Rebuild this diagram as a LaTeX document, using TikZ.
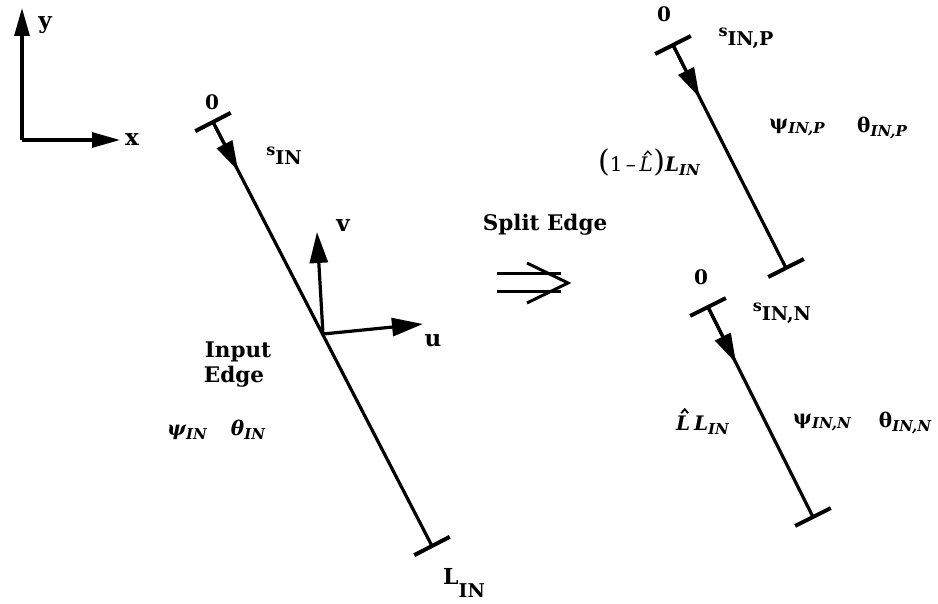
\documentclass[tikz,border=0pt]{standalone}
\usepackage{fontspec}
\setmainfont{DejaVu Serif}
\usetikzlibrary{arrows.meta,calc}
\newcommand{\slab}[1]{{\fontsize{16}{16}\selectfont\raisebox{9pt}{s}}{\fontsize{19}{19}\selectfont #1}}
\newcommand{\gklab}[2]{{\bfseries #1}\raisebox{-4pt}{\fontsize{15}{15}\selectfont\bfseries\itshape #2}}
\newcommand{\itlab}[2]{{\bfseries\itshape #1}\raisebox{-4pt}{\fontsize{15}{15}\selectfont\bfseries\itshape #2}}
\begin{document}
\begin{tikzpicture}[x=1pt,y=-1pt,
  edge/.style={line width=3.2pt},
  tickl/.style={line width=4pt},
  dirarrow/.style={line width=3.2pt,-{Triangle[length=30pt,width=17pt]}},
  axisarrow/.style={line width=3.2pt,-{Triangle[length=28pt,width=15pt]}},
  uvarrow/.style={line width=3.2pt,-{Triangle[length=31pt,width=18pt]}},
  txt/.style={font=\fontsize{21.5}{26}\selectfont\bfseries, inner sep=0pt},
  big/.style={font=\fontsize{23}{26}\selectfont\bfseries, inner sep=0pt},
  gkl/.style={font=\fontsize{20}{24}\selectfont, inner sep=0pt},
  zero/.style={font=\fontsize{20}{22}\selectfont\bfseries, inner sep=0pt},
  hatline/.style={line width=1.3pt, line join=miter}]
\useasboundingbox (0,0) rectangle (938,604);

% axes
\coordinate (O) at (22,140);
\coordinate (Y) at (22,8);
\coordinate (X) at (120,140);
\draw[axisarrow] (O) -- (Y);
\draw[axisarrow] (O) -- (X);
\node[big] (ylab) at (45,25) {y};
\node[big] (xlab) at (132,140) {x};

% input edge
\coordinate (s1) at (213,122);
\coordinate (e1) at (432,546);
\coordinate (m1) at (323,334);
\coordinate (V) at (317,232);
\coordinate (U) at (423,324);
\draw[edge] (s1) -- (e1);
\draw[tickl] ($(s1)!20pt!90:(e1)$) -- ($(s1)!20pt!-90:(e1)$);
\draw[tickl] ($(e1)!20pt!90:(s1)$) -- ($(e1)!20pt!-90:(s1)$);
\draw[dirarrow] (s1) -- ($(s1)!55pt!(e1)$);
\draw[uvarrow] (m1) -- (V);
\draw[uvarrow] (m1) -- (U);
\node[zero] (z1) at (212,102) {0};
\node[txt] (sin) at (284,156) {\slab{IN}};
\node[big] (vlab) at (343,226) {v};
\node[big] (ulab) at (433,341) {u};
\node[txt] (inp) at (238,352) {Input};
\node[txt] (edg) at (234,377) {Edge};
\node[gkl] (psiin) at (187,432) {\itlab{ψ}{IN}};
\node[gkl] (thin) at (248,430) {\itlab{θ}{IN}};
\node[txt] (lin) at (464,583) {\fontsize{22}{24}\selectfont L\raisebox{-13pt}{\fontsize{19}{21}\selectfont IN}};

% split arrow
\node[txt] (split) at (545,225) {Split Edge};
\coordinate (a1) at (497,274);
\coordinate (a2) at (561,274);
\coordinate (b1) at (497,292);
\coordinate (b2) at (561,292);
\coordinate (c1) at (527,263);
\coordinate (c2) at (568,283);
\coordinate (c3) at (527,303);
\draw[line width=3pt] (a1) -- (a2);
\draw[line width=3pt] (b1) -- (b2);
\draw[line width=3pt,line join=miter] (c1) -- (c2) -- (c3);

% positive part
\coordinate (s2) at (673,45);
\coordinate (e2) at (786,268);
\draw[edge] (s2) -- (e2);
\draw[tickl] ($(s2)!20pt!90:(e2)$) -- ($(s2)!20pt!-90:(e2)$);
\draw[tickl] ($(e2)!20pt!90:(s2)$) -- ($(e2)!20pt!-90:(s2)$);
\draw[dirarrow] (s2) -- ($(s2)!59pt!(e2)$);
\node[zero] (z2) at (664,14) {0};
\node[txt] (sinp) at (746,38) {\slab{IN,P}};
\node[gkl] (psip) at (797,128) {\gklab{ψ}{IN,P}};
\node[gkl] (thp) at (882,128) {\gklab{θ}{IN,P}};
\node[gkl, anchor=base west] (lpa) at (598,172) {{\fontsize{30}{30}\selectfont(}1\,–\,};
\node[gkl, anchor=base west] (lpL) at (lpa.base east) {\itshape L};
\node[gkl, anchor=base west] (lpb) at (lpL.base east) {{\fontsize{30}{30}\selectfont)}\itlab{L}{IN}};
\draw[hatline] ($(lpL.north)+(-2,-2)$) -- ($(lpL.north)+(1.5,-6)$) -- ($(lpL.north)+(5,-2)$);

% negative part
\coordinate (s3) at (708,307);
\coordinate (e3) at (813,517);
\draw[edge] (s3) -- (e3);
\draw[tickl] ($(s3)!20pt!90:(e3)$) -- ($(s3)!20pt!-90:(e3)$);
\draw[tickl] ($(e3)!20pt!90:(s3)$) -- ($(e3)!20pt!-90:(s3)$);
\draw[dirarrow] (s3) -- ($(s3)!63pt!(e3)$);
\node[zero] (z3) at (701,277) {0};
\node[txt] (sinn) at (782,313) {\slab{IN,N}};
\node[gkl] (psin) at (822,423) {\gklab{ψ}{IN,N}};
\node[gkl] (thn) at (905,423) {\gklab{θ}{IN,N}};
\node[gkl, anchor=base west] (lnL) at (676,430) {\bfseries\itshape L};
\node[gkl, anchor=base west] (lnb) at (lnL.base east) {\,\itlab{L}{IN}};
\draw[hatline, line width=1.8pt] ($(lnL.north)+(-2,-2)$) -- ($(lnL.north)+(1.5,-6)$) -- ($(lnL.north)+(5,-2)$);
\end{tikzpicture}
\end{document}
